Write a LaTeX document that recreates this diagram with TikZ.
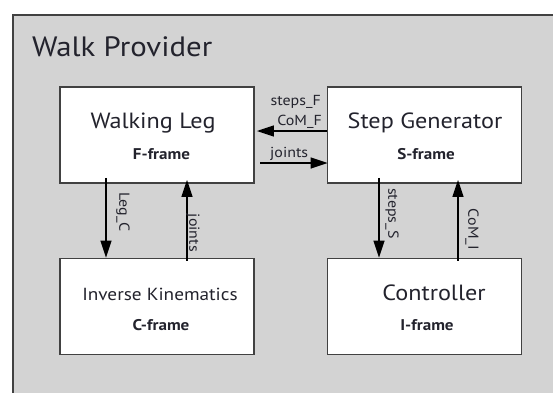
\documentclass[tikz,border=0pt]{standalone}
\usepackage{fontspec}
\setmainfont[FakeStretch=1.1]{PT Sans}
\usetikzlibrary{arrows.meta,calc}
\definecolor{panelgray}{RGB}{211,211,211}
\definecolor{edgegray}{RGB}{65,65,65}
\definecolor{inkdark}{RGB}{35,35,45}
\tikzset{
  box/.style={draw=edgegray, line width=1.8pt, fill=white, minimum width=194pt, minimum height=96pt, inner sep=0pt},
  boxtitle/.style={inner sep=0pt, text=inkdark, font=\fontsize{22}{26}\selectfont, anchor=base},
  boxframe/.style={inner sep=0pt, text=inkdark, font=\fontsize{15.5}{18}\selectfont\bfseries, anchor=base},
  flow/.style={draw=black, line width=1.5pt, -{Triangle[length=17pt,width=11pt]}},
  flowlabel/.style={inner sep=0pt, text=inkdark, font=\fontsize{14.5}{17}\selectfont},
}
\begin{document}
\begin{tikzpicture}[x=1pt,y=-1pt]
  \useasboundingbox (0,0) rectangle (553,392);
  \clip (0,0) rectangle (553,392);
  % outer container
  \draw[draw=edgegray, line width=1.5pt, fill=panelgray] (13,15) rectangle (570,410);
  \node[inner sep=0pt, anchor=base west, text=inkdark, font=\fontsize{28}{32}\selectfont] (title) at (32,56) {Walk Provider};

  % blocks
  \node[box] (wl) at (157,135) {};
  \node[box] (sg) at (424.5,135) {};
  \node[box] (ik) at (157,306.5) {};
  \node[box] (ct) at (424.5,306.5) {};

  \node[boxtitle] (wlt) at (153,128) {Walking Leg};
  \node[boxframe] (wlf) at (161.5,159) {F-frame};
  \node[boxtitle] (sgt) at (425,128) {Step Generator};
  \node[boxframe] (sgf) at (426,159) {S-frame};
  \node[boxtitle, font=\fontsize{17.5}{21}\selectfont] (ikt) at (160,300) {Inverse Kinematics};
  \node[boxframe] (ikf) at (161,330) {C-frame};
  \node[boxtitle] (ctt) at (434,300) {Controller};
  \node[boxframe] (ctf) at (427,330) {I-frame};

  % horizontal links
  \draw[flow] (sg.west |- 322,131) -- ([xshift=2pt]wl.east |- 0,131);
  \draw[flow] (260,163) -- ([xshift=1pt]sg.west |- 0,163);
  \node[flowlabel, anchor=base east] (lsf) at (321,105) {steps\_F};
  \node[flowlabel, anchor=base east] (lcf) at (322,125) {CoM\_F};
  \node[flowlabel, anchor=base west] (lj) at (270,157) {joints};

  % vertical links, left pair
  \draw[flow] ([yshift=6pt]wl.south -| 106,0) -- (ik.north -| 106,0);
  \draw[flow] ([yshift=-3pt]ik.north -| 187,0) -- ([yshift=4pt]wl.south -| 187,0);
  \node[flowlabel, rotate=-90, anchor=west] (llc) at (123,192) {Leg\_C};
  \node[flowlabel, rotate=-90, anchor=east] (ljn) at (193,252) {joints};

  % vertical links, right pair
  \draw[flow] ([yshift=6pt]sg.south -| 379,0) -- (ct.north -| 379,0);
  \draw[flow] ([yshift=-3pt]ct.north -| 458,0) -- ([yshift=4pt]sg.south -| 458,0);
  \node[flowlabel, rotate=-90, anchor=west] (lss) at (392,188) {steps\_S};
  \node[flowlabel, rotate=-90, anchor=east] (lci) at (472,250) {CoM\_I};
\end{tikzpicture}
\end{document}
